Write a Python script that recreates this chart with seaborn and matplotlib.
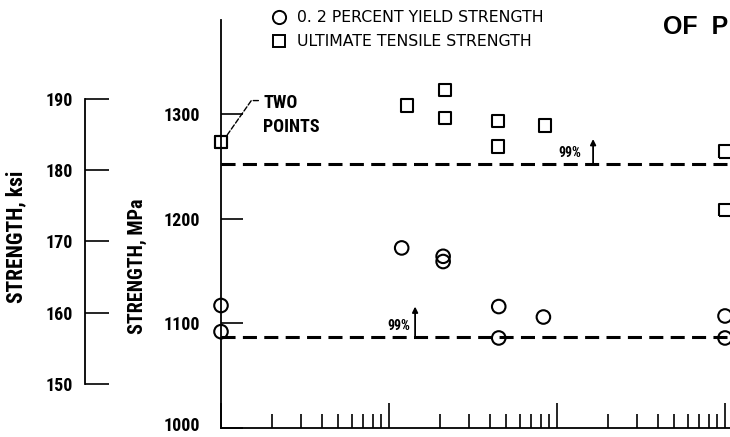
import matplotlib
matplotlib.use("Agg")
import matplotlib.pyplot as plt
import matplotlib.ticker as mticker
from matplotlib.lines import Line2D
from matplotlib.transforms import ScaledTranslation
import seaborn as sns
import pandas as pd

# Ultimate tensile strength, MPa
uts_x = [1, 1, 12.8, 21.5, 21.5, 44.6, 44.6, 85, 1000, 1000]
uts_y = [1273, 1273, 1308, 1323, 1296, 1293, 1269, 1289, 1264, 1208]
# 0.2 percent yield strength, MPa
ys_x = [1, 1, 11.9, 21, 21, 45, 45, 83, 1000, 1000]
ys_y = [1117, 1092, 1172, 1164, 1159, 1116, 1086, 1106, 1107, 1086]
# 99-percent design limits, MPa
uts_99 = 1252
ys_99 = 1087
mpa_ticks = [1000, 1100, 1200, 1300]
ksi_ticks = [150, 160, 170, 180, 190]
legend_labels = ["0. 2 PERCENT YIELD STRENGTH", "ULTIMATE TENSILE STRENGTH"]

sns.set_style("white")
plt.rcParams["font.family"] = ["Roboto Condensed", "Roboto", "DejaVu Sans"]
plt.rcParams["font.weight"] = "bold"
plt.rcParams["text.color"] = "black"
plt.rcParams["axes.labelcolor"] = "black"
plt.rcParams["axes.labelweight"] = "bold"
plt.rcParams["xtick.color"] = "black"
plt.rcParams["ytick.color"] = "black"

W, H = 730, 437
fig = plt.figure(figsize=(W / 100, H / 100), dpi=100)

def fx(px):
    return px / W

def fy(py):
    return 1 - py / H

# main strength axes (MPa) with log x
ax_w = 546 / W
ax = fig.add_axes([fx(221), fy(428), ax_w, (428 - 20) / H])
ax.set_xscale("log")
ax.set_xlim(1, 10 ** 3.25)
ax.set_ylim(1000, 1389.7)

uts = pd.DataFrame({"x": uts_x, "y": uts_y})
ys = pd.DataFrame({"x": ys_x, "y": ys_y})
sns.scatterplot(data=uts, x="x", y="y", marker="s", s=80, facecolor="none",
                edgecolor="black", linewidth=1.5, ax=ax, clip_on=False, zorder=5)
sns.scatterplot(data=ys, x="x", y="y", marker="o", s=95, facecolor="none",
                edgecolor="black", linewidth=1.5, ax=ax, clip_on=False, zorder=5)
for coll in ax.collections:
    coll.set_facecolor("none")

dash = (0, (4.6, 2.4))
ax.axhline(uts_99, color="black", lw=2.2, linestyle=dash, zorder=3)
ax.axhline(ys_99, color="black", lw=2.2, linestyle=dash, zorder=3)

# 99% markers
ax.annotate("", xy=(164, 1276), xytext=(164, uts_99),
            arrowprops=dict(arrowstyle="-|>", lw=1.3, color="black", mutation_scale=8,
                            shrinkA=0, shrinkB=0))
ax.text(139, uts_99 + 4, "99%", ha="right", va="bottom", fontsize=10, fontweight="bold")
ax.annotate("", xy=(14.3, 1116), xytext=(14.3, ys_99),
            arrowprops=dict(arrowstyle="-|>", lw=1.3, color="black", mutation_scale=8,
                            shrinkA=0, shrinkB=0))
ax.text(13.3, ys_99 + 4, "99%", ha="right", va="bottom", fontsize=10, fontweight="bold")

# note on the coincident points
ax.annotate("TWO\nPOINTS", xy=(1.09, 1280), xytext=(1.78, 1299),
            ha="left", va="center", fontsize=13, linespacing=1.45,
            arrowprops=dict(arrowstyle="-", lw=1.0, linestyle="--", color="black",
                            relpos=(0, 0.84), shrinkA=1, shrinkB=0,
                            connectionstyle="angle,angleA=180,angleB=55,rad=0"))

for side in ["top", "right"]:
    ax.spines[side].set_visible(False)
for side in ["left", "bottom"]:
    ax.spines[side].set_linewidth(1.3)
    ax.spines[side].set_color("black")

ax.set_yticks(mpa_ticks)
ax.yaxis.set_major_formatter(mticker.FormatStrFormatter("%d"))
ax.tick_params(axis="y", direction="in", length=16, width=1.2, pad=15,
               labelsize=13, left=True)
ax.xaxis.set_major_locator(mticker.LogLocator(base=10, numticks=10))
ax.xaxis.set_minor_locator(mticker.LogLocator(base=10, subs=range(2, 10), numticks=10))
ax.tick_params(axis="x", which="major", direction="in", length=18, width=1.2,
               labelbottom=False, bottom=True)
ax.tick_params(axis="x", which="minor", direction="in", length=10, width=1.2,
               labelbottom=False, bottom=True)
ax.set_xlabel("")
ax.set_ylabel("STRENGTH, MPa", fontsize=14.5)
ax.yaxis.set_label_coords((147 - 221) / 546, (428 - 266) / (428 - 20))
ax.grid(False)
ax.patch.set_alpha(0)

fig.canvas.draw()
# lift the lowest tick label so it stays inside the figure
for lab in ax.get_yticklabels():
    if lab.get_text() == "1000":
        lab.set_transform(lab.get_transform() + ScaledTranslation(0, 3 / 72, fig.dpi_scale_trans))

# companion scale in ksi
ax2_w = 0.03
ax2 = fig.add_axes([fx(85), fy(428), ax2_w, (428 - 20) / H])
ax2.set_ylim(143.82, 201.09)
ax2.set_xticks([])
ax2.set_yticks(ksi_ticks)
for side in ["top", "right", "bottom"]:
    ax2.spines[side].set_visible(False)
ax2.spines["left"].set_bounds(150, 190)
ax2.spines["left"].set_linewidth(1.3)
ax2.spines["left"].set_color("black")
ax2.tick_params(axis="y", direction="in", length=17, width=1.2, pad=9,
                labelsize=13, left=True)
ax2.set_ylabel("STRENGTH, ksi", fontsize=15.5)
ax2.yaxis.set_label_coords((27 - 85) / (ax2_w * W), (428 - 237) / (428 - 20))
ax2.patch.set_alpha(0)

# legend
handles = [
    Line2D([], [], marker="o", linestyle="none", markersize=9.5, markerfacecolor="none",
           markeredgecolor="black", markeredgewidth=1.4),
    Line2D([], [], marker="s", linestyle="none", markersize=8.8, markerfacecolor="none",
           markeredgecolor="black", markeredgewidth=1.4),
]
fig.legend(handles, legend_labels, loc="upper left", bbox_to_anchor=(fx(270), fy(10)),
           frameon=False, handlelength=1.2, handletextpad=0.55,
           labelspacing=0.6, borderpad=0, borderaxespad=0,
           prop={"size": 11.3, "weight": "normal", "family": "DejaVu Sans"})

fig.text(fx(663), fy(34), "OF  P", fontsize=18, fontweight="bold",
         family=["Liberation Sans", "DejaVu Sans"], ha="left", va="baseline")

fig.savefig("out.png", dpi=100)
